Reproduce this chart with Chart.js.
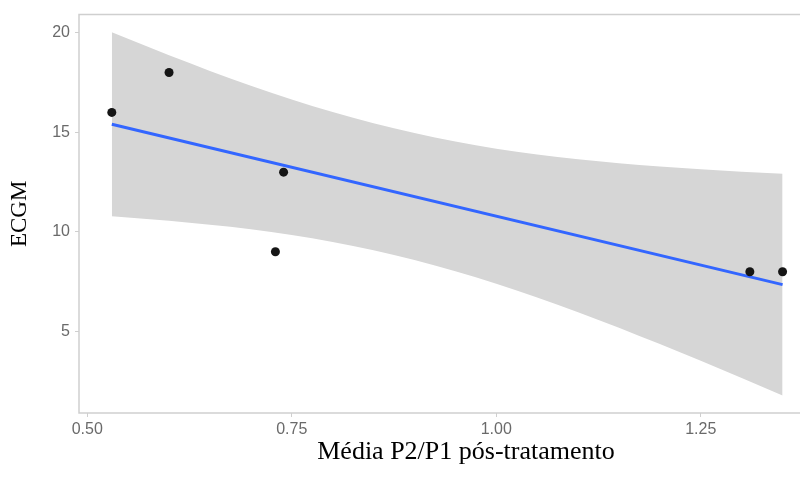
<!DOCTYPE html>
<html lang="pt">

<head>
    <meta charset="UTF-8">
    <title>ECGM vs Média P2/P1</title>
    <style>
        html, body {
            margin: 0;
            padding: 0;
            overflow: hidden;
            background: #fff;
        }

        #frame {
            width: 800px;
            height: 479px;
            overflow: hidden;
        }
    </style>
</head>

<body>
    <div id="frame">
        <canvas id="chart" width="870" height="479"></canvas>
    </div>

    <script src="https://cdn.jsdelivr.net/npm/chart.js@4/dist/chart.umd.min.js"></script>
    <script>
        // observed points
        const pointX = [0.53, 0.60, 0.73, 0.74, 1.31, 1.35];
        const pointY = [16, 18, 9, 13, 8, 8];

        // fitted line (ends)
        const fitX = [0.53, 1.35];
        const fitY = [15.40, 7.35];

        // confidence band
        const bandX = [0.53, 0.60, 0.70, 0.80, 0.90, 1.00, 1.10, 1.20, 1.30, 1.35];
        const bandUpper = [20.02, 18.87, 17.34, 16.02, 14.96, 14.18, 13.65, 13.28, 13.02, 12.92];
        const bandLower = [10.79, 10.56, 10.13, 9.49, 8.59, 7.40, 5.97, 4.37, 2.66, 1.78];

        const xTicks = [0.50, 0.75, 1.00, 1.25];
        const yTicks = [5, 10, 15, 20];

        const xTitle = "Média P2/P1 pós-tratamento";
        const yTitle = "ECGM";

        function pairs(xs, ys) {
            return xs.map((x, i) => ({ x: x, y: ys[i] }));
        }

        // top, left and bottom edges of the panel (right edge is cropped off)
        const panelBorder = {
            id: "panelBorder",
            beforeDatasetsDraw(chart) {
                const { ctx, chartArea } = chart;
                const { left, top, right, bottom } = chartArea;
                ctx.save();
                ctx.strokeStyle = "#cfcfcf";
                ctx.lineWidth = 1.5;
                ctx.beginPath();
                ctx.moveTo(right, top);
                ctx.lineTo(left, top);
                ctx.lineTo(left, bottom);
                ctx.lineTo(right, bottom);
                ctx.stroke();
                ctx.restore();
            }
        };

        const tickFont = { family: "'Liberation Sans', Arial, sans-serif", size: 16 };
        const serif = "'Liberation Serif', 'Times New Roman', serif";

        new Chart(document.getElementById("chart"), {
            type: "scatter",
            data: {
                datasets: [
                    {
                        data: pairs(pointX, pointY),
                        pointRadius: 4.5,
                        pointBackgroundColor: "#151515",
                        pointBorderColor: "#151515",
                        pointBorderWidth: 0
                    },
                    {
                        data: pairs(fitX, fitY),
                        showLine: true,
                        borderColor: "#3366ff",
                        borderWidth: 3,
                        pointRadius: 0,
                        fill: false
                    },
                    {
                        data: pairs(bandX, bandLower),
                        showLine: true,
                        borderWidth: 0,
                        pointRadius: 0,
                        cubicInterpolationMode: "monotone",
                        fill: false
                    },
                    {
                        data: pairs(bandX, bandUpper),
                        showLine: true,
                        borderWidth: 0,
                        pointRadius: 0,
                        cubicInterpolationMode: "monotone",
                        backgroundColor: "#d6d6d6",
                        fill: "-1"
                    }
                ]
            },
            options: {
                responsive: false,
                animation: false,
                devicePixelRatio: 1,
                layout: { padding: { top: 11, right: 17, left: 0, bottom: 0 } },
                plugins: {
                    legend: { display: false },
                    tooltip: { enabled: false }
                },
                scales: {
                    x: {
                        type: "linear",
                        min: 0.4899,
                        max: 1.4361,
                        afterFit(scale) { scale.height = 66; },
                        afterBuildTicks(scale) { scale.ticks = xTicks.map(v => ({ value: v })); },
                        ticks: {
                            color: "#6a6a6a",
                            font: tickFont,
                            padding: 3,
                            maxRotation: 0,
                            callback: v => v.toFixed(2)
                        },
                        grid: {
                            drawOnChartArea: false,
                            drawTicks: true,
                            tickLength: 4,
                            color: "#cfcfcf"
                        },
                        border: { display: false },
                        title: {
                            display: true,
                            text: xTitle,
                            color: "#000000",
                            font: { family: serif, size: 26 },
                            padding: { top: 0, bottom: 11 }
                        }
                    },
                    y: {
                        type: "linear",
                        min: 0.905,
                        max: 20.91,
                        afterFit(scale) { scale.width = 79; },
                        afterBuildTicks(scale) { scale.ticks = yTicks.map(v => ({ value: v })); },
                        ticks: {
                            color: "#6a6a6a",
                            font: tickFont,
                            padding: 5,
                            callback: v => String(v)
                        },
                        grid: {
                            drawOnChartArea: false,
                            drawTicks: true,
                            tickLength: 4,
                            color: "#cfcfcf"
                        },
                        border: { display: false },
                        title: {
                            display: true,
                            text: yTitle,
                            color: "#000000",
                            font: { family: serif, size: 23 },
                            padding: { top: 6, bottom: 0 }
                        }
                    }
                }
            },
            plugins: [panelBorder]
        });
    </script>
</body>

</html>
